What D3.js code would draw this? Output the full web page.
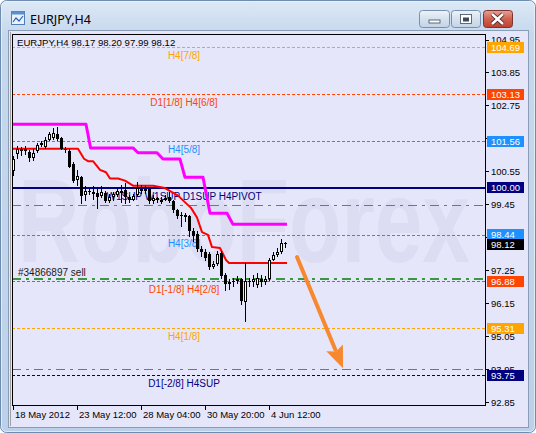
<!DOCTYPE html>
<html><head><meta charset="utf-8">
<script src="https://cdn.jsdelivr.net/npm/d3@7"></script>
<style>html,body{margin:0;padding:0;background:#fff;}svg{display:block;}</style>
</head><body>
<script>
// ---------- DATA ----------
const symbolTitle = "EURJPY,H4";
const infoText = "EURJPY,H4  98.17 98.20 97.99 98.12";
const opens  = [100.55,101.12,101.28,101.22,101.18,101.00,101.22,101.42,101.35,101.60,101.65,101.80,101.65,101.30,101.22,100.80,100.25,100.35,99.75,99.90,99.85,99.82,99.72,99.82,99.55,99.68,99.75,99.90,99.92,99.68,99.60,99.75,99.95,99.88,99.95,99.55,99.65,99.52,99.60,99.70,99.55,99.25,99.05,99.10,99.05,98.55,98.45,97.95,97.85,97.78,97.35,97.45,97.82,97.10,96.80,96.85,96.90,96.95,96.20,96.90,96.85,96.75,96.95,96.85,96.95,97.60,97.75,97.85,98.17];
const highs  = [101.05,101.40,101.35,101.38,101.25,101.30,101.50,101.55,101.70,101.85,102.00,102.02,101.70,101.35,101.30,100.85,100.60,100.40,100.05,100.00,100.05,99.95,100.05,99.90,99.78,99.85,99.95,100.10,100.15,99.75,99.80,100.20,100.10,100.05,100.00,99.75,99.70,99.70,99.75,99.85,99.60,99.30,99.20,99.15,99.10,98.65,98.55,98.05,97.95,97.85,97.55,97.90,97.90,97.15,96.95,97.00,97.05,97.00,97.50,97.00,97.10,97.15,97.10,97.05,97.65,97.85,98.00,98.30,98.20];
const lows   = [100.40,100.95,101.05,101.10,100.85,100.90,101.15,101.35,101.30,101.55,101.60,101.55,101.25,101.15,100.65,100.15,100.05,99.45,99.55,99.75,99.60,99.28,99.65,99.50,99.50,99.55,99.70,99.50,99.45,99.50,99.55,99.70,99.80,99.80,99.45,99.45,99.50,99.45,99.55,99.50,99.15,98.95,98.70,98.85,98.35,98.20,97.85,97.70,97.55,97.25,97.30,97.40,96.95,96.55,96.60,96.70,96.80,96.10,95.51,96.70,96.70,96.65,96.70,96.75,96.90,97.55,97.70,97.80,97.99];
const closes = [100.95,101.28,101.22,101.30,100.98,101.17,101.42,101.50,101.60,101.78,101.82,101.62,101.30,101.26,100.70,100.22,100.40,99.72,99.90,99.85,99.80,99.70,99.85,99.55,99.70,99.78,99.90,99.82,99.68,99.58,99.72,100.00,99.88,99.95,99.55,99.65,99.58,99.60,99.66,99.55,99.25,99.05,99.10,99.02,98.55,98.40,97.95,97.85,97.65,97.35,97.45,97.80,97.06,96.80,96.85,96.90,96.95,96.23,96.90,96.85,96.95,97.00,96.85,96.95,97.60,97.75,97.85,98.17,98.12];

// Murrey-style level lines
const levelPrices = [104.69, 103.13, 101.56, 100.00, 98.44, 96.88, 95.31, 93.75];
const levelNames  = ["H4[7/8]", "D1[1/8] H4[6/8]", "H4[5/8]", "W1SUP W1SUP D1SUP H4PIVOT", "H4[3/8]", "D1[-1/8] H4[2/8]", "H4[1/8]", "D1[-2/8] H4SUP"];
const levelLabels = ["104.69", "103.13", "101.56", "100.00", "98.44", "96.88", "95.31", "93.75"];

// order lines
const orderPrice = 96.97, orderLabel = "#34866897 sell";
const stopPrice = 99.43, targetPrice = 93.95;

// current price
const lastPrice = 98.12, lastLabel = "98.12";

// step lines (bar index, price)
const magentaIdx = [-0.5,18.25,19.4,30,31.25,36,37.5,41.75,43,47.5,49.25,53.5,55,68.5];
const magentaVal = [102.12,102.12,101.33,101.33,101.17,101.17,100.96,100.96,100.35,100.35,99.15,99.15,98.78,98.78];
const redIdx = [-0.25,16.25,17.75,18.75,20,21.75,23.25,24.25,26.25,28,30,34.25,35,38,41.25,42.5,44.5,46,47.25,48.75,49.75,51.75,53.25,54,68.5];
const redVal = [101.30,101.30,100.97,100.89,100.89,100.60,100.52,100.31,100.31,100.24,100.07,100.07,100.07,99.99,99.74,99.58,99.33,99.01,98.52,98.43,98.02,97.99,97.59,97.49,97.49];

// forecast arrow (bar index, price)
const arrowFrom = [71, 97.69], arrowTo = [82.5, 93.98];

// axes
const yTicks = [104.95,103.85,102.75,101.65,100.55,99.45,98.35,97.25,96.15,95.05,93.95,92.85];
const yTickLabels = ["104.95","103.85","102.75","101.65","100.55","99.45","98.35","97.25","96.15","95.05","93.95","92.85"];
const xTickIdx = [0,16,32,48,64];
const xTickLabels = ["18 May 2012","23 May 12:00","28 May 04:00","30 May 20:00","4 Jun 12:00"];

// ---------- STYLES ----------
const levelColors = ["#FFA500","#FF4500","#1E90FF","#000080","#1E90FF","#FF4500","#FFA500","#000080"];
const levelDash   = ["3,2","3,2","3,2",null,"3,2","3,2","3,2","3,2"];
const bg = "#E6E6FA";
const font = "'Liberation Sans', Arial, sans-serif";

// ---------- DRAW ----------
const W = 536, H = 433;
const plot = {l: 12, r: 485, t: 34, b: 405};
const svg = d3.select("body").append("svg").attr("width", W).attr("height", H);
const defs = svg.append("defs");

const gw = defs.append("linearGradient").attr("id","win").attr("x1",0).attr("y1",0).attr("x2",0).attr("y2",1);
gw.append("stop").attr("offset","0%").attr("stop-color","#dce8f5");
gw.append("stop").attr("offset","8%").attr("stop-color","#c6d8ed");
gw.append("stop").attr("offset","100%").attr("stop-color","#bcd1e9");
svg.append("rect").attr("x",0.5).attr("y",0.5).attr("width",W-1).attr("height",H-1).attr("rx",6)
  .attr("fill","url(#win)").attr("stroke","#6d8cb0");
svg.append("rect").attr("x",1.5).attr("y",1.5).attr("width",W-3).attr("height",H-3).attr("rx",5)
  .attr("fill","none").attr("stroke","#eef4fb").attr("stroke-opacity",0.7);

// title icon
const ic = svg.append("g").attr("transform","translate(11,11)");
ic.append("rect").attr("x",0.5).attr("y",0.5).attr("width",13).attr("height",13).attr("fill","#e9f1fa").attr("stroke","#4f7fb8");
ic.append("rect").attr("x",0.5).attr("y",0.5).attr("width",13).attr("height",3).attr("fill","#5b8fd0");
ic.append("path").attr("d","M2,11 L5,7 L8,10 L12,5").attr("stroke","#2a62b0").attr("fill","none").attr("stroke-width",1.2);
svg.append("text").attr("x",30).attr("y",24).attr("font-family","'Noto Sans', 'DejaVu Sans', sans-serif")
  .attr("font-size",12.5).attr("fill","#000").text(symbolTitle);

// window buttons
function btn(x, w, red) {
  const g = defs.append("linearGradient").attr("id","b"+x).attr("x1",0).attr("y1",0).attr("x2",0).attr("y2",1);
  g.append("stop").attr("offset","0%").attr("stop-color", red ? "#e8a296" : "#eef3f9");
  g.append("stop").attr("offset","50%").attr("stop-color", red ? "#d0614f" : "#d5e1ee");
  g.append("stop").attr("offset","100%").attr("stop-color", red ? "#c0402f" : "#c4d3e6");
  svg.append("rect").attr("x",x+0.5).attr("y",10.5).attr("width",w).attr("height",17).attr("rx",3)
    .attr("fill","url(#b"+x+")").attr("stroke", red ? "#7b3530" : "#7890ad");
}
btn(419, 30, false); btn(451, 29, false); btn(483, 29, true);
svg.append("rect").attr("x",429).attr("y",20).attr("width",11).attr("height",3).attr("fill","#fff").attr("stroke","#3b4a5c").attr("stroke-width",0.8);
svg.append("rect").attr("x",460.5).attr("y",14.5).attr("width",11).attr("height",9).attr("fill","#fff").attr("stroke","#3b4a5c").attr("stroke-width",0.8);
svg.append("rect").attr("x",463).attr("y",17.5).attr("width",6).attr("height",4).attr("fill","#3b4a5c");
svg.append("path").attr("d","M492,14 L503,24 M503,14 L492,24").attr("stroke","#3a1f1c").attr("stroke-width",4.2);
svg.append("path").attr("d","M492,14 L503,24 M503,14 L492,24").attr("stroke","#fff").attr("stroke-width",2.6);

// client area
svg.append("rect").attr("x",8.5).attr("y",30.5).attr("width",520).attr("height",397).attr("fill",bg).attr("stroke","#8a9cb6");
svg.append("line").attr("x1",10.5).attr("x2",10.5).attr("y1",32).attr("y2",426).attr("stroke","#a0a0a0");

// scales
const x = d3.scaleLinear().domain([0, 118]).range([13, 485]);
const y = d3.scaleLinear().domain([92.85, 104.95]).range([402, 39.5]);
const cy = v => Math.round(y(v)) + 0.5;

defs.append("clipPath").attr("id","plotclip").append("rect")
  .attr("x",plot.l+1).attr("y",plot.t+1).attr("width",plot.r-plot.l-1).attr("height",plot.b-plot.t-1);
const pg = svg.append("g").attr("clip-path","url(#plotclip)");

// watermark
pg.append("text").attr("x",18).attr("y",262).attr("font-family",font).attr("font-weight","bold")
  .attr("font-size",118).attr("textLength",452).attr("lengthAdjust","spacingAndGlyphs")
  .attr("fill","#dcdcf3").text("RoboForex");

// level lines
levelPrices.forEach((p, i) => {
  pg.append("line").attr("x1",plot.l).attr("x2",plot.r)
    .attr("y1", i === 3 ? Math.round(y(p)) : cy(p)).attr("y2", i === 3 ? Math.round(y(p)) : cy(p))
    .attr("stroke",levelColors[i]).attr("stroke-width", i === 3 ? 2 : 1)
    .attr("stroke-dasharray", levelDash[i]).attr("shape-rendering","crispEdges");
});
// order lines
pg.append("line").attr("x1",plot.l).attr("x2",plot.r).attr("y1",cy(stopPrice)).attr("y2",cy(stopPrice))
  .attr("stroke","#FF4500").attr("stroke-dasharray","9,5,3,5").attr("shape-rendering","crispEdges");
pg.append("line").attr("x1",plot.l).attr("x2",plot.r).attr("y1",cy(targetPrice)).attr("y2",cy(targetPrice))
  .attr("stroke","#FF4500").attr("stroke-dasharray","9,5,3,5").attr("shape-rendering","crispEdges");
pg.append("line").attr("x1",plot.l).attr("x2",plot.r).attr("y1",Math.round(y(orderPrice))).attr("y2",Math.round(y(orderPrice)))
  .attr("stroke","#008000").attr("stroke-width",1.6).attr("stroke-dasharray","9,5,3,5");

// level texts
levelPrices.forEach((p, i) => {
  pg.append("text").attr("x",184).attr("y",y(p)+12).attr("text-anchor","middle")
    .attr("font-family",font).attr("font-size",10).attr("fill",levelColors[i]).text(levelNames[i]);
});
pg.append("text").attr("x",18).attr("y",y(orderPrice)-3).attr("font-family",font).attr("font-size",10)
  .attr("fill","#1a1a1a").text(orderLabel);

// step lines
const magPts = magentaIdx.map((d, i) => [x(d), y(magentaVal[i])]);
const redPts = redIdx.map((d, i) => [x(d), y(redVal[i])]);
pg.append("path").attr("d", d3.line()(magPts)).attr("fill","none").attr("stroke","#FF00FF").attr("stroke-width",3).attr("stroke-linejoin","round");
pg.append("path").attr("d", d3.line()(redPts)).attr("fill","none").attr("stroke","#FF0000").attr("stroke-width",2).attr("stroke-linejoin","round");

// candles
const cg = pg.append("g").attr("shape-rendering","crispEdges");
opens.forEach((o, i) => {
  const c = closes[i], cx = Math.round(x(i));
  const yH = Math.round(y(highs[i])), yL = Math.round(y(lows[i]));
  cg.append("rect").attr("x",cx).attr("y",yH).attr("width",1).attr("height",Math.max(1,yL-yH)).attr("fill","#000");
  const top = Math.round(y(Math.max(o, c))), bot = Math.round(y(Math.min(o, c)));
  const hgt = Math.max(1, bot - top);
  cg.append("rect").attr("x",cx-1).attr("y",top).attr("width",3).attr("height",hgt).attr("fill","#000");
  if (c > o && hgt > 2) {
    cg.append("rect").attr("x",cx).attr("y",top+1).attr("width",1).attr("height",hgt-2).attr("fill","#fff");
  }
});

// plot frame
svg.append("rect").attr("x",plot.l+0.5).attr("y",plot.t+0.5).attr("width",plot.r-plot.l).attr("height",plot.b-plot.t)
  .attr("fill","none").attr("stroke","#000");

// right axis
yTicks.forEach((v, i) => {
  const yy = cy(v);
  svg.append("line").attr("x1",plot.r+0.5).attr("x2",plot.r+4).attr("y1",yy).attr("y2",yy).attr("stroke","#000");
  svg.append("text").attr("x",491).attr("y",y(v)+3.5).attr("font-family",font).attr("font-size",9.5)
    .attr("fill","#000").text(yTickLabels[i]);
});
function priceBox(p, label, color) {
  const yy = y(p);
  svg.append("rect").attr("x",487).attr("y",Math.round(yy-5.5)).attr("width",37).attr("height",11).attr("fill",color);
  svg.append("text").attr("x",491).attr("y",yy+3.5).attr("font-family",font).attr("font-size",9.5)
    .attr("fill","#fff").text(label);
}
levelPrices.forEach((p, i) => priceBox(p, levelLabels[i], levelColors[i]));
priceBox(lastPrice, lastLabel, "#000");

// bottom axis
xTickIdx.forEach((d, i) => {
  const xx = Math.round(x(d)) + 0.5;
  svg.append("line").attr("x1",xx).attr("x2",xx).attr("y1",plot.b).attr("y2",plot.b+5).attr("stroke","#000");
  svg.append("text").attr("x",xx+1.5).attr("y",418).attr("font-family",font).attr("font-size",9.5)
    .attr("fill","#000").text(xTickLabels[i]);
});

// info text
svg.append("text").attr("x",17).attr("y",46).attr("font-family",font).attr("font-size",9.6)
  .attr("fill","#000").text(infoText);

// forecast arrow
const ax0 = x(arrowFrom[0]), ay0 = y(arrowFrom[1]), ax1 = x(arrowTo[0]), ay1 = y(arrowTo[1]);
const dx = ax1 - ax0, dy = ay1 - ay0, len = Math.hypot(dx, dy), ux = dx/len, uy = dy/len;
const headL = 22, headW = 9;
const bx = ax1 - ux*headL, by = ay1 - uy*headL;
svg.append("line").attr("x1",ax0).attr("y1",ay0).attr("x2",bx+ux*2).attr("y2",by+uy*2)
  .attr("stroke","#F7882F").attr("stroke-width",4).attr("stroke-linecap","round");
svg.append("path").attr("d", d3.line()([[ax1,ay1],[bx - uy*headW, by + ux*headW],[bx + ux*4, by + uy*4],[bx + uy*headW, by - ux*headW]]) + "Z")
  .attr("fill","#F7882F");
</script>
</body></html>
